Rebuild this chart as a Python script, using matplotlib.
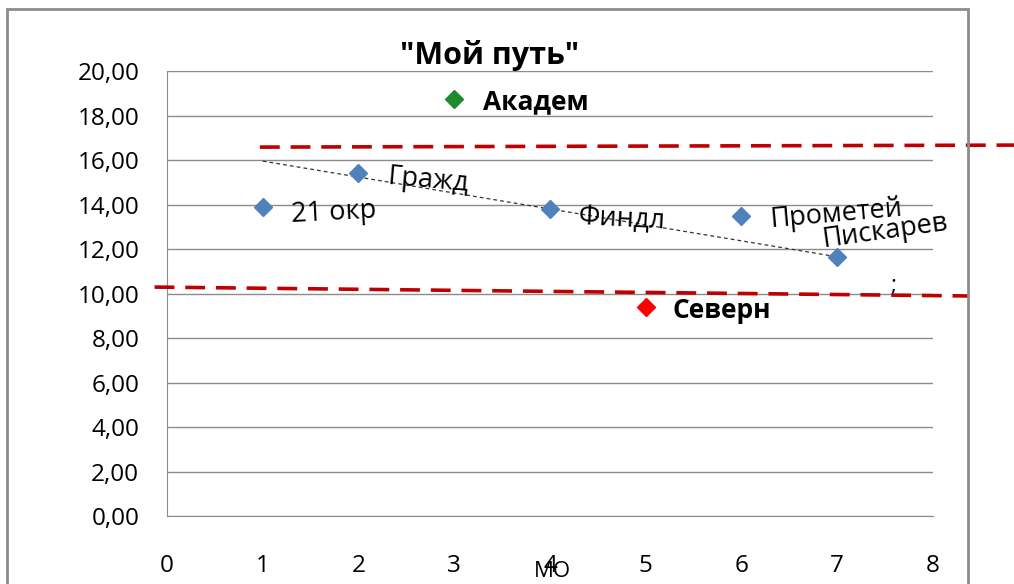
import matplotlib.pyplot as plt
import matplotlib.patches as mpatches

plt.rcParams['font.family'] = ['Open Sans', 'DejaVu Sans']

# blue series
mo_x = [1, 2, 4, 6, 7]
mo_y = [13.9, 15.4, 13.8, 13.5, 11.65]
mo_names = ['21 окр', 'Гражд', 'Финдл', 'Прометей', 'Пискарев']
# highlighted points
akadem_x, akadem_y = 3, 18.75
severn_x, severn_y = 5, 9.4
# trend line end points
trend_x = [1, 7]
trend_y = [15.95, 11.65]
# hand drawn red dashed bounds
upper_x = [0.97, 8.85]
upper_y = [16.58, 16.67]
lower_x = [-0.13, 8.37]
lower_y = [10.29, 9.89]

fig = plt.figure(figsize=(10.14, 5.84), dpi=100)
ax = fig.add_axes([0.1647, 0.1164, 0.7554, 0.762])

ax.set_xlim(0, 8)
ax.set_ylim(0, 20)
ax.set_yticks(range(0, 21, 2))
ax.set_yticklabels(['%d,00' % v for v in range(0, 21, 2)])
ax.set_xticks(range(0, 9))
ax.tick_params(length=0, labelsize=17.5)
ax.tick_params(axis='x', pad=27)
ax.tick_params(axis='y', pad=20)
ax.grid(axis='y', color='#8c8c8c', lw=1)
ax.set_axisbelow(True)
for s in ['top', 'right']:
    ax.spines[s].set_visible(False)
for s in ['left', 'bottom']:
    ax.spines[s].set_color('#8c8c8c')

ax.plot(trend_x, trend_y, color='#333333', lw=0.9, linestyle=(0, (3, 2.5)), zorder=2)
ax.plot(mo_x, mo_y, 'D', color='#4F81BD', ms=9, zorder=3)
ax.plot(akadem_x, akadem_y, 'D', color='#1E8B2E', ms=9, zorder=3)
ax.plot(severn_x, severn_y, 'D', color='#FF0000', ms=9, zorder=3)

label_off = [(0.3, -0.35, 3), (0.3, -0.15, -5), (0.3, -0.35, -3), (0.3, -0.2, 5), (-0.15, 0.75, 8)]
for x, y, name, (dx, dy, rot) in zip(mo_x, mo_y, mo_names, label_off):
    ax.text(x + dx, y + dy, name, fontsize=19.5, rotation=rot,
            va='center', ha='left', rotation_mode='anchor')
ax.text(akadem_x + 0.3, akadem_y - 0.15, 'Академ', fontsize=19, fontweight='bold', va='center')
ax.text(severn_x + 0.28, severn_y - 0.15, 'Северн', fontsize=19, fontweight='bold', va='center')
ax.text(7.55, 10.35, ';', fontsize=16, va='center')

for xs, ys in [(upper_x, upper_y), (lower_x, lower_y)]:
    ax.plot(xs, ys, color='#C00000', lw=2.6, linestyle=(0, (5.5, 3)), clip_on=False, zorder=4)

fig.text(0.483, 0.905, '"Мой путь"', fontsize=22, fontweight='bold', ha='center', va='center')
fig.text(0.545, 0.022, 'МО', fontsize=16, ha='center', va='center')

fig.patches.append(mpatches.Rectangle((0.007, -0.05), 0.9476, 1.035, transform=fig.transFigure,
                                      fill=False, edgecolor='#8c8c8c', lw=2))

fig.savefig('out.png', dpi=100)
